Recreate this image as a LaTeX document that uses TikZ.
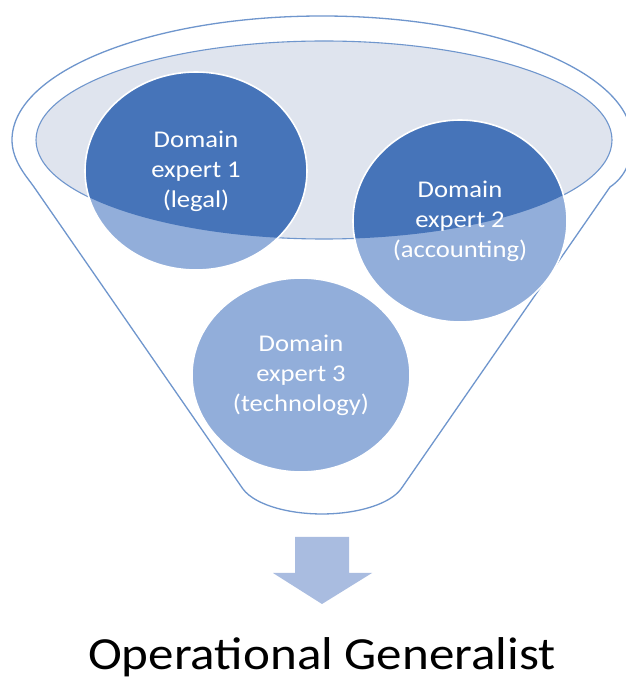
\documentclass[tikz,border=0pt]{standalone}
\usepackage{fontspec}
\setmainfont{Carlito}
\newfontfamily\widecarlito[FakeStretch=1.11]{Carlito}
\usetikzlibrary{shapes,positioning}

\definecolor{rimblue}{HTML}{6F96CD}
\definecolor{bowl}{HTML}{DFE4EE}
\definecolor{deepblue}{HTML}{4674B9}
\definecolor{paleblue}{HTML}{92AEDA}
\definecolor{arrowblue}{HTML}{A9BCE0}

\begin{document}
\begin{tikzpicture}[x=1pt, y=1pt]

    \tikzstyle{rim} = [
        draw=rimblue,
        line width=1.3pt,
    ]
    \tikzstyle{expert} = [
        ellipse,
        draw=white,
        line width=1.6pt,
        text=white,
        align=center,
        inner sep=0pt,
        font=\widecarlito\fontsize{24}{30}\selectfont,
    ]

    \useasboundingbox (0,0) rectangle (626,681);
    \fill[white] (0,0) rectangle (626,681);

    % centres of the three domains
    \coordinate (c1) at (196,510);
    \coordinate (c2) at (460,460);
    \coordinate (c3) at (301,306);

    % funnel body
    \path[rim, fill=white] (12,541) .. controls (12,520) and (27,504) .. (34,494)
        -- (242.6,192.5) arc[start angle=197, end angle=343, x radius=83, y radius=36]
        -- (610,494) .. controls (625,504) and (632,520) .. (632,541)
        arc[start angle=0, end angle=180, x radius=310, y radius=124];

    % opening of the funnel
    \path[rim, fill=bowl, line width=1.1pt] (324,541) ellipse [x radius=288, y radius=99];

    % the part below the rim shows through the glass
    \fill[paleblue] (c1) ellipse [x radius=111, y radius=99];
    \fill[paleblue] (c2) ellipse [x radius=107, y radius=101];
    \fill[paleblue] (c3) ellipse [x radius=109, y radius=97];
    \begin{scope}
        \clip (324,541) ellipse [x radius=288, y radius=99];
        \fill[deepblue] (c1) ellipse [x radius=111, y radius=99];
        \fill[deepblue] (c2) ellipse [x radius=107, y radius=101];
    \end{scope}

    \node [expert, minimum width=222, minimum height=198] (dom1) at (c1)
        {Domain\\expert 1\\(legal)};
    \node [expert, minimum width=214, minimum height=202] (dom2) at (c2)
        {Domain\\expert 2\\(accounting)};
    \node [expert, minimum width=218, minimum height=194] (dom3) at (c3)
        {Domain\\expert 3\\(technology)};

    % outflow
    \fill[arrowblue] (295,144) -- (349,144) -- (349,108) -- (372,108)
        -- (322,77) -- (273,108) -- (295,108) -- cycle;

    \node [anchor=base, inner sep=0pt, font=\widecarlito\fontsize{46}{50}\selectfont] (gen) at (322,11)
        {Operational Generalist};

\end{tikzpicture}
\end{document}
